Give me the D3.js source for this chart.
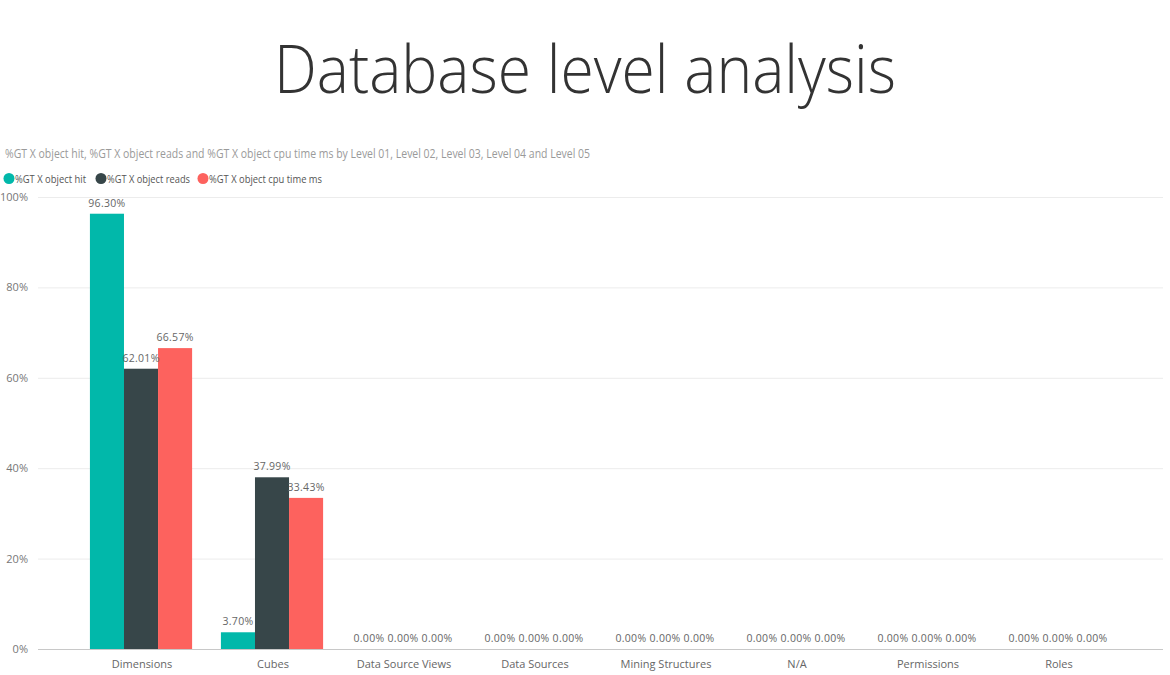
<!DOCTYPE html>
<html>
<head>
<meta charset="utf-8">
<script src="https://cdn.jsdelivr.net/npm/d3@7"></script>
<style>
  html, body { margin: 0; padding: 0; background: #fff; }
  svg { display: block; font-family: "Segoe UI", "Open Sans", "Noto Sans", sans-serif; }
</style>
</head>
<body>
<svg id="chart" width="1170" height="675"></svg>
<script>
// chart data
const categories = ["Dimensions", "Cubes", "Data Source Views", "Data Sources", "Mining Structures", "N/A", "Permissions", "Roles"];
const seriesNames = ["%GT X object hit", "%GT X object reads", "%GT X object cpu time ms"];
const objectHit = [96.30, 3.70, 0, 0, 0, 0, 0, 0];
const objectReads = [62.01, 37.99, 0, 0, 0, 0, 0, 0];
const objectCpu = [66.57, 33.43, 0, 0, 0, 0, 0, 0];
const yTicks = [0, 20, 40, 60, 80, 100];
const colors = ["#01B8AA", "#374649", "#FD625E"];

const seriesValues = [objectHit, objectReads, objectCpu];

const svg = d3.select("#chart");

// title
svg.append("text")
    .attr("x", 585).attr("y", 93)
    .attr("text-anchor", "middle")
    .attr("font-size", 67).attr("font-weight", 300)
    .attr("fill", "#333")
    .attr("textLength", 622).attr("lengthAdjust", "spacingAndGlyphs")
    .text("Database level analysis");

// subtitle
svg.append("text")
    .attr("x", 5).attr("y", 158)
    .attr("font-size", 12).attr("fill", "#9a9a9a")
    .attr("textLength", 585).attr("lengthAdjust", "spacingAndGlyphs")
    .text("%GT X object hit, %GT X object reads and %GT X object cpu time ms by Level 01, Level 02, Level 03, Level 04 and Level 05");

const legendX = [9, 101, 203];
const legendW = [71, 83, 113];
const legend = svg.append("g");
seriesNames.forEach((name, i) => {
    legend.append("circle").attr("cx", legendX[i]).attr("cy", 178.5).attr("r", 5.5).attr("fill", colors[i]);
    legend.append("text")
        .attr("x", legendX[i] + 6).attr("y", 182.5)
        .attr("font-size", 10.5).attr("fill", "#555")
        .attr("textLength", legendW[i]).attr("lengthAdjust", "spacingAndGlyphs")
        .text(name);
});

// scales
const plotL = 38, plotR = 1163, plotT = 197, plotB = 649;
const x = d3.scaleBand().domain(categories).range([plotL, plotR]).paddingInner(0.22).paddingOuter(0.404);
const xs = d3.scaleBand().domain(d3.range(seriesNames.length)).range([0, x.bandwidth()]);
const y = d3.scaleLinear().domain([0, 100]).range([plotB, plotT]);

// gridlines + y labels
const yAxis = d3.axisLeft(y).tickValues(yTicks).tickSize(-(plotR - plotL)).tickFormat(d => d + "%");
const gy = svg.append("g").attr("transform", `translate(${plotL},0)`).call(yAxis);
gy.select(".domain").remove();
gy.selectAll(".tick line").attr("stroke", "#ececec").attr("stroke-width", 1);
gy.selectAll(".tick text").attr("x", -10).attr("font-size", 11).attr("fill", "#777")
    .attr("font-family", "\"Segoe UI\", \"Open Sans\", sans-serif");

// x axis
const xAxis = d3.axisBottom(x).tickSize(0).tickPadding(10);
const gx = svg.append("g").attr("transform", `translate(0,${plotB})`).call(xAxis);
gx.select(".domain").attr("stroke", "#c8c8c8").attr("d", `M${plotL},0.5H${plotR}`);
gx.selectAll(".tick text").attr("font-size", 11).attr("fill", "#666").attr("dy", "0.85em")
    .attr("font-family", "\"Segoe UI\", \"Open Sans\", sans-serif");

// bars
const rows = [];
categories.forEach((c, ci) => {
    seriesValues.forEach((vals, si) => rows.push({ cat: c, s: si, v: vals[ci] }));
});

const bars = svg.append("g");
bars.selectAll("rect").data(rows.filter(d => d.v > 0)).enter().append("rect")
    .attr("x", d => x(d.cat) + xs(d.s) - 1)
    .attr("y", d => y(d.v))
    .attr("width", xs.bandwidth())
    .attr("height", d => y(0) - y(d.v))
    .attr("fill", d => colors[d.s]);

// data labels
bars.selectAll("text").data(rows).enter().append("text")
    .attr("x", d => x(d.cat) + xs(d.s) + xs.bandwidth() / 2 - 1)
    .attr("y", d => y(d.v) - 7)
    .attr("text-anchor", "middle")
    .attr("font-size", 10.5).attr("fill", "#666")
    .attr("letter-spacing", 0.3)
    .text(d => d.v.toFixed(2) + "%");
</script>
</body>
</html>
